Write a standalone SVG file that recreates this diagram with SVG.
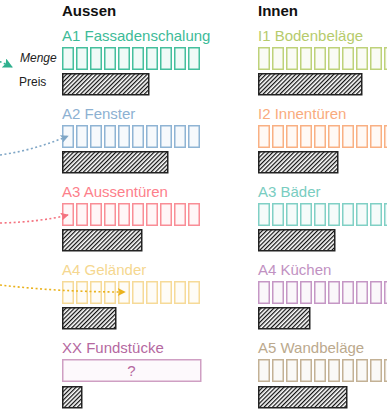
<svg xmlns="http://www.w3.org/2000/svg" width="387" height="411" viewBox="0 0 387 411">
<style>
text{font-family:"Liberation Sans",Arial,sans-serif;}
.hd{font-size:15px;font-weight:bold;fill:#111;}
.lb{font-size:15px;}
.sm{font-size:12px;fill:#222;}
.bar{fill:url(#hatch);stroke:#222;stroke-width:1.5;}
.con{fill:none;stroke-width:1.6;stroke-dasharray:2 2.5;}
</style>
<defs>
<pattern id="hatch" patternUnits="userSpaceOnUse" width="3" height="3" patternTransform="rotate(45)">
<rect width="3" height="3" fill="#fff"/>
<line x1="0.6" y1="0" x2="0.6" y2="3" stroke="#111" stroke-width="1.3"/>
</pattern>
<g id="cells" fill="currentColor" fill-opacity="0.08" stroke="currentColor" stroke-width="1.5">
<rect x="0.75" y="0.75" width="10.5" height="21.5"/>
<rect x="14.75" y="0.75" width="10.5" height="21.5"/>
<rect x="28.75" y="0.75" width="10.5" height="21.5"/>
<rect x="42.75" y="0.75" width="10.5" height="21.5"/>
<rect x="56.75" y="0.75" width="10.5" height="21.5"/>
<rect x="70.75" y="0.75" width="10.5" height="21.5"/>
<rect x="84.75" y="0.75" width="10.5" height="21.5"/>
<rect x="98.75" y="0.75" width="10.5" height="21.5"/>
<rect x="112.75" y="0.75" width="10.5" height="21.5"/>
<rect x="126.75" y="0.75" width="10.5" height="21.5"/>
</g>
<marker id="mTeal" viewBox="0 0 10 10" refX="9" refY="5" markerWidth="14" markerHeight="10" orient="auto" markerUnits="userSpaceOnUse"><path d="M0,0 L10,5 L0,10 L2,5 Z" fill="#2fb08e"/></marker>
<marker id="mBlue" viewBox="0 0 10 10" refX="9" refY="5" markerWidth="11" markerHeight="8" orient="auto" markerUnits="userSpaceOnUse"><path d="M0,0 L10,5 L0,10 L2,5 Z" fill="#7fa6c6"/></marker>
<marker id="mPink" viewBox="0 0 10 10" refX="9" refY="5" markerWidth="12" markerHeight="8" orient="auto" markerUnits="userSpaceOnUse"><path d="M0,0 L10,5 L0,10 L2,5 Z" fill="#f4727f"/></marker>
<marker id="mYel" viewBox="0 0 10 10" refX="9" refY="5" markerWidth="12" markerHeight="8" orient="auto" markerUnits="userSpaceOnUse"><path d="M0,0 L10,5 L0,10 L2,5 Z" fill="#eab21c"/></marker>
</defs>

<text class="hd" x="62" y="16">Aussen</text>
<text class="hd" x="258" y="16">Innen</text>

<g id="legend">
<text class="sm" x="20" y="62" font-style="italic">Menge</text>
<text class="sm" x="19" y="86">Preis</text>
</g>

<g id="A1">
<text class="lb" x="62" y="40.5" fill="#3dbb98">A1 Fassadenschalung</text>
<use href="#cells" x="62" y="47" color="#45bf9d"/>
<rect class="bar" x="62.75" y="73.75" width="86" height="21"/>
</g>
<g id="A2">
<text class="lb" x="62" y="118.5" fill="#8db1d2">A2 Fenster</text>
<use href="#cells" x="62" y="125" color="#8fb4d4"/>
<rect class="bar" x="62.75" y="151.75" width="105" height="21"/>
</g>
<g id="A3">
<text class="lb" x="62" y="196.5" fill="#fd7f8b">A3 Aussentüren</text>
<use href="#cells" x="62" y="203" color="#f98d96"/>
<rect class="bar" x="62.75" y="229.75" width="79" height="21"/>
</g>
<g id="A4">
<text class="lb" x="62" y="274.5" fill="#f5d790">A4 Geländer</text>
<use href="#cells" x="62" y="281" color="#f6da98"/>
<rect class="bar" x="62.75" y="307.75" width="53" height="21"/>
</g>
<g id="XX">
<text class="lb" x="62" y="352.5" fill="#b5689f">XX Fundstücke</text>
<rect x="62.75" y="359.75" width="138" height="21.5" fill="#fdf9fc" stroke="#cf9fc3" stroke-width="1.5"/>
<text class="lb" x="131.5" y="376" text-anchor="middle" fill="#b5689f">?</text>
<rect class="bar" x="62.75" y="386.75" width="19" height="21"/>
</g>

<g id="I1">
<text class="lb" x="258" y="40.5" fill="#b6cb6c">I1 Bodenbeläge</text>
<use href="#cells" x="258" y="47" color="#bed27a"/>
<rect class="bar" x="258.75" y="73.75" width="103" height="21"/>
</g>
<g id="I2">
<text class="lb" x="258" y="118.5" fill="#f9ab7d">I2 Innentüren</text>
<use href="#cells" x="258" y="125" color="#f9b083"/>
<rect class="bar" x="258.75" y="151.75" width="79" height="21"/>
</g>
<g id="A3b">
<text class="lb" x="258" y="196.5" fill="#79cdc1">A3 Bäder</text>
<use href="#cells" x="258" y="203" color="#80d0c5"/>
<rect class="bar" x="258.75" y="229.75" width="76" height="21"/>
</g>
<g id="A4b">
<text class="lb" x="258" y="274.5" fill="#c191c2">A4 Küchen</text>
<use href="#cells" x="258" y="281" color="#c597c5"/>
<rect class="bar" x="258.75" y="307.75" width="51" height="21"/>
</g>
<g id="A5">
<text class="lb" x="258" y="352.5" fill="#bba98d">A5 Wandbeläge</text>
<use href="#cells" x="258" y="359" color="#c3b195"/>
<rect class="bar" x="258.75" y="386.75" width="88" height="21"/>
</g>

<g id="connectors">
<path class="con" d="M-40,52 Q-10,56 12,67" stroke="#2fb08e" marker-end="url(#mTeal)"/>
<path class="con" d="M0,155 Q35,150 68,136" stroke="#7fa6c6" marker-end="url(#mBlue)"/>
<path class="con" d="M0,223 Q40,222 68,215" stroke="#f4727f" marker-end="url(#mPink)"/>
<path class="con" d="M0,285 Q60,292 125,292" stroke="#eab21c" marker-end="url(#mYel)"/>
</g>
</svg>
